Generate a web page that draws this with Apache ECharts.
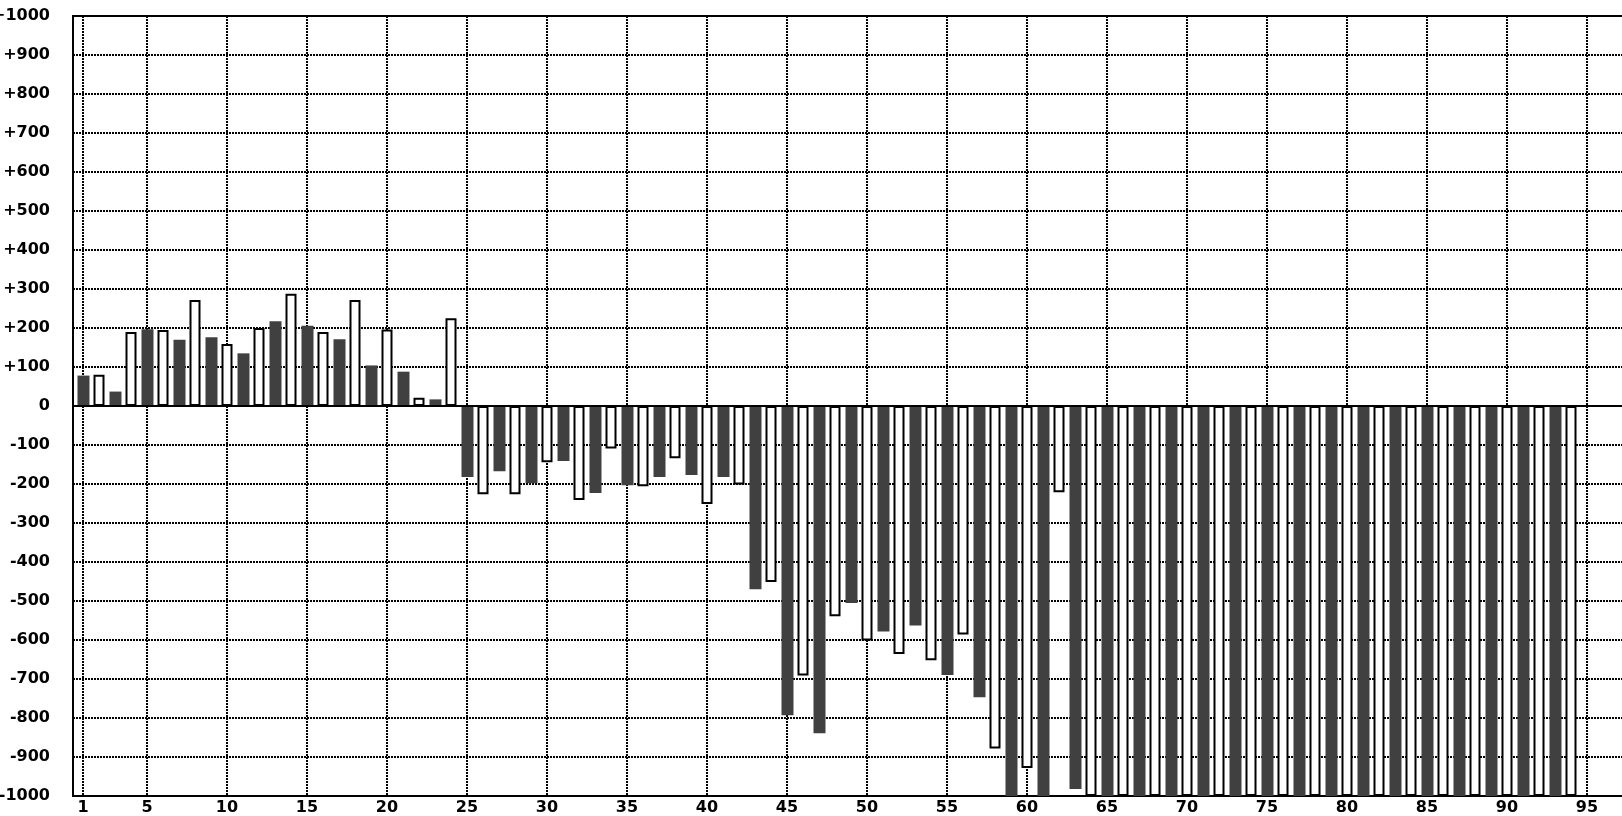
<!DOCTYPE html>
<html>
<head>
<meta charset="utf-8">
<script src="https://cdn.jsdelivr.net/npm/echarts@6/dist/echarts.min.js"></script>
<style>
html,body{margin:0;padding:0;background:#ffffff;}
#chart{width:1622px;height:816px;}
</style>
</head>
<body>
<div id="chart"></div>
<script>
// Categories (bar index) and their values
const categories = [1,2,3,4,5,6,7,8,9,10,11,12,13,14,15,16,17,18,19,20,
  21,22,23,24,25,26,27,28,29,30,31,32,33,34,35,36,37,38,39,40,
  41,42,43,44,45,46,47,48,49,50,51,52,53,54,55,56,57,58,59,60,
  61,62,63,64,65,66,67,68,69,70,71,72,73,74,75,76,77,78,79,80,
  81,82,83,84,85,86,87,88,89,90,91,92,93,94];
const values = [78,80,37,190,197,195,170,272,176,159,135,200,217,288,206,190,171,272,104,196,
  88,21,17,225,-182,-226,-167,-226,-198,-144,-141,-241,-223,-109,-203,-206,-182,-134,-177,-251,
  -182,-201,-470,-451,-793,-691,-839,-539,-505,-601,-578,-636,-563,-652,-690,-586,-747,-878,-1000,-928,
  -1000,-221,-982,-1000,-1000,-1000,-1000,-1000,-1000,-1000,-1000,-1000,-1000,-1000,-1000,-1000,-1000,-1000,-1000,-1000,
  -1000,-1000,-1000,-1000,-1000,-1000,-1000,-1000,-1000,-1000,-1000,-1000,-1000,-1000];
const xTickLabels = [1,5,10,15,20,25,30,35,40,45,50,55,60,65,70,75,80,85,90,95];
const yMin = -1000, yMax = 1000, yStep = 100;

const darkData = [], whiteData = [];
categories.forEach((c, i) => {
  if (c % 2 === 1) darkData.push([c, values[i]]);
  else whiteData.push([c, values[i]]);
});

const font = 'DejaVu Sans';
const dotted = {color: '#000', width: 2, type: [2, 1]};

const chart = echarts.init(document.getElementById('chart'), null, {renderer: 'canvas'});
chart.setOption({
  animation: false,
  backgroundColor: '#ffffff',
  grid: {left: 73, top: 16, bottom: 20, right: -51, outerBoundsMode: 'none', containLabel: false,
    show: true, borderColor: '#000', borderWidth: 2, backgroundColor: 'transparent'},
  xAxis: {
    type: 'value', min: 0.375, max: 100.375,
    axisLine: {show: false},
    axisTick: {show: false, customValues: xTickLabels},
    axisLabel: {customValues: xTickLabels, color: '#000', fontFamily: font, fontSize: 16, fontWeight: 'bold', margin: 4},
    splitLine: {show: true, lineStyle: dotted}
  },
  yAxis: {
    type: 'value', min: yMin, max: yMax, interval: yStep,
    axisLine: {show: false},
    axisTick: {show: false},
    axisLabel: {
      color: '#000', fontFamily: font, fontSize: 16, fontWeight: 'bold', margin: 23,
      formatter: v => v > 0 ? '+' + v : String(v)
    },
    splitLine: {show: true, lineStyle: dotted}
  },
  series: [
    {
      type: 'bar', name: 'dark', data: darkData, barWidth: 12, barGap: '-100%',
      itemStyle: {color: '#404040'},
      z: 2
    },
    {
      type: 'bar', name: 'white', data: whiteData, barWidth: 11, barGap: '-100%',
      itemStyle: {color: '#ffffff', borderColor: '#000', borderWidth: 2},
      z: 3,
      markLine: {
        silent: true, symbol: 'none', label: {show: false}, z: 5,
        lineStyle: {color: '#000', width: 2, type: 'solid'},
        data: [{yAxis: 0}]
      }
    }
  ]
});
</script>
</body>
</html>
